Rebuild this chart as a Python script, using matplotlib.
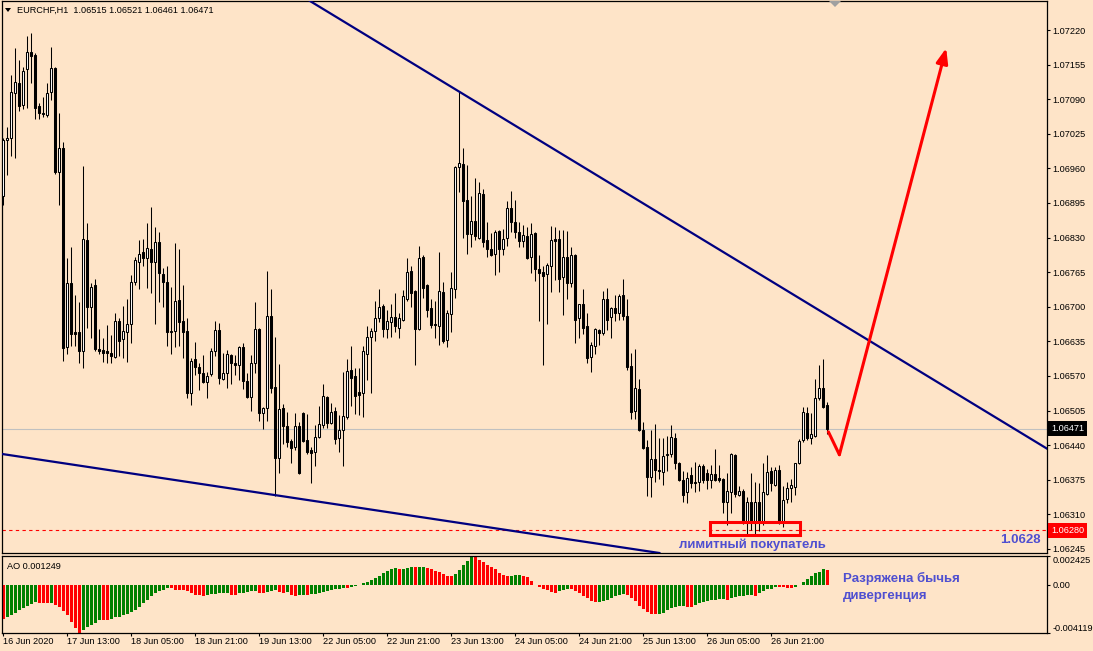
import matplotlib.pyplot as plt
from matplotlib.patches import Rectangle, Polygon
from matplotlib.transforms import blended_transform_factory
import numpy as np

# EURCHF H1 candles (207 bars, 16 Jun 2020 -> 29 Jun 2020)
opens = [
    1.06909, 1.07013, 1.07018, 1.07101, 1.07120, 1.07080, 1.07146, 1.07178, 1.07173, 1.07077,
    1.07064, 1.07060, 1.07103, 1.07148, 1.06953, 1.06998, 1.06624, 1.06744, 1.06652, 1.06652,
    1.06616, 1.06825, 1.06699, 1.06740, 1.06620, 1.06618, 1.06616, 1.06614, 1.06605, 1.06673,
    1.06639, 1.06652, 1.06667, 1.06746, 1.06784, 1.06802, 1.06791, 1.06808, 1.06785, 1.06821,
    1.06761, 1.06746, 1.06652, 1.06654, 1.06712, 1.06674, 1.06654, 1.06537, 1.06601, 1.06586,
    1.06575, 1.06558, 1.06573, 1.06616, 1.06656, 1.06565, 1.06575, 1.06610, 1.06595, 1.06590,
    1.06624, 1.06560, 1.06530, 1.06594, 1.06659, 1.06500, 1.06509, 1.06682, 1.06550, 1.06415,
    1.06509, 1.06475, 1.06447, 1.06436, 1.06475, 1.06500, 1.06449, 1.06430, 1.06428, 1.06456,
    1.06477, 1.06531, 1.06481, 1.06505, 1.06453, 1.06468, 1.06492, 1.06582, 1.06569, 1.06539,
    1.06537, 1.06612, 1.06644, 1.06654, 1.06678, 1.06701, 1.06659, 1.06671, 1.06680, 1.06661,
    1.06676, 1.06714, 1.06767, 1.06729, 1.06659, 1.06793, 1.06740, 1.06697, 1.06667, 1.06663,
    1.06727, 1.06637, 1.06686, 1.06733, 1.06962, 1.06968, 1.06900, 1.06836, 1.06861, 1.06830,
    1.06911, 1.06825, 1.06808, 1.06800, 1.06842, 1.06808, 1.06829, 1.06885, 1.06859, 1.06840,
    1.06823, 1.06832, 1.06793, 1.06838, 1.06770, 1.06765, 1.06761, 1.06776, 1.06827, 1.06827,
    1.06755, 1.06793, 1.06744, 1.06797, 1.06678, 1.06705, 1.06663, 1.06605, 1.06627, 1.06656,
    1.06650, 1.06714, 1.06680, 1.06697, 1.06689, 1.06722, 1.06682, 1.06588, 1.06505, 1.06545,
    1.06468, 1.06436, 1.06381, 1.06413, 1.06394, 1.06389, 1.06421, 1.06424, 1.06454, 1.06406,
    1.06375, 1.06351, 1.06383, 1.06370, 1.06370, 1.06400, 1.06387, 1.06375, 1.06385, 1.06379,
    1.06377, 1.06333, 1.06351, 1.06421, 1.06347, 1.06354, 1.06294, 1.06333, 1.06294, 1.06333,
    1.06296, 1.06349, 1.06391, 1.06366, 1.06394, 1.06294, 1.06339, 1.06360, 1.06362, 1.06406,
    1.06449, 1.06500, 1.06454, 1.06458, 1.06528, 1.06548, 1.06515,
]
highs = [
    1.07018, 1.07037, 1.07135, 1.07186, 1.07163, 1.07150, 1.07208, 1.07214, 1.07176, 1.07082,
    1.07094, 1.07120, 1.07188, 1.07150, 1.07064, 1.07009, 1.06791, 1.06812, 1.06723, 1.06708,
    1.06964, 1.06857, 1.06744, 1.06753, 1.06658, 1.06642, 1.06665, 1.06646, 1.06689, 1.06678,
    1.06701, 1.06714, 1.06759, 1.06793, 1.06825, 1.06827, 1.06857, 1.06887, 1.06849, 1.06840,
    1.06772, 1.06776, 1.06738, 1.06819, 1.06808, 1.06740, 1.06678, 1.06603, 1.06633, 1.06595,
    1.06610, 1.06577, 1.06622, 1.06673, 1.06669, 1.06614, 1.06618, 1.06612, 1.06610, 1.06626,
    1.06631, 1.06575, 1.06609, 1.06708, 1.06661, 1.06511, 1.06767, 1.06733, 1.06644, 1.06592,
    1.06517, 1.06503, 1.06451, 1.06500, 1.06484, 1.06502, 1.06498, 1.06436, 1.06477, 1.06513,
    1.06554, 1.06533, 1.06519, 1.06511, 1.06496, 1.06577, 1.06601, 1.06627, 1.06584, 1.06584,
    1.06627, 1.06663, 1.06661, 1.06710, 1.06733, 1.06705, 1.06693, 1.06706, 1.06725, 1.06688,
    1.06731, 1.06791, 1.06776, 1.06731, 1.06814, 1.06798, 1.06742, 1.06714, 1.06710, 1.06802,
    1.06746, 1.06693, 1.06765, 1.06964, 1.07103, 1.06998, 1.06966, 1.06908, 1.06941, 1.06935,
    1.06921, 1.06859, 1.06838, 1.06844, 1.06844, 1.06847, 1.06898, 1.06917, 1.06900, 1.06859,
    1.06853, 1.06849, 1.06857, 1.06840, 1.06798, 1.06776, 1.06782, 1.06851, 1.06849, 1.06844,
    1.06844, 1.06842, 1.06812, 1.06799, 1.06706, 1.06733, 1.06689, 1.06633, 1.06661, 1.06659,
    1.06729, 1.06735, 1.06699, 1.06722, 1.06724, 1.06753, 1.06714, 1.06614, 1.06620, 1.06564,
    1.06483, 1.06449, 1.06468, 1.06479, 1.06454, 1.06454, 1.06458, 1.06477, 1.06462, 1.06408,
    1.06391, 1.06389, 1.06398, 1.06409, 1.06404, 1.06404, 1.06396, 1.06402, 1.06432, 1.06402,
    1.06379, 1.06387, 1.06425, 1.06424, 1.06364, 1.06358, 1.06342, 1.06387, 1.06370, 1.06368,
    1.06406, 1.06421, 1.06398, 1.06398, 1.06402, 1.06364, 1.06370, 1.06377, 1.06407, 1.06451,
    1.06511, 1.06511, 1.06500, 1.06564, 1.06590, 1.06601, 1.06521,
]
lows = [
    1.06891, 1.06947, 1.06983, 1.06979, 1.07067, 1.07071, 1.07073, 1.07120, 1.07052, 1.07052,
    1.07056, 1.07056, 1.07088, 1.06950, 1.06891, 1.06599, 1.06612, 1.06627, 1.06627, 1.06594,
    1.06584, 1.06661, 1.06641, 1.06616, 1.06612, 1.06597, 1.06595, 1.06594, 1.06603, 1.06607,
    1.06603, 1.06597, 1.06631, 1.06740, 1.06733, 1.06776, 1.06735, 1.06725, 1.06667, 1.06708,
    1.06699, 1.06627, 1.06612, 1.06624, 1.06627, 1.06603, 1.06528, 1.06515, 1.06571, 1.06543,
    1.06556, 1.06528, 1.06569, 1.06607, 1.06554, 1.06562, 1.06548, 1.06554, 1.06571, 1.06562,
    1.06545, 1.06528, 1.06505, 1.06575, 1.06486, 1.06471, 1.06486, 1.06537, 1.06345, 1.06387,
    1.06443, 1.06436, 1.06406, 1.06430, 1.06385, 1.06445, 1.06423, 1.06368, 1.06400, 1.06454,
    1.06473, 1.06473, 1.06479, 1.06443, 1.06428, 1.06400, 1.06490, 1.06513, 1.06498, 1.06496,
    1.06492, 1.06562, 1.06537, 1.06635, 1.06671, 1.06644, 1.06641, 1.06644, 1.06652, 1.06642,
    1.06673, 1.06710, 1.06699, 1.06590, 1.06656, 1.06716, 1.06680, 1.06661, 1.06642, 1.06629,
    1.06631, 1.06624, 1.06652, 1.06716, 1.06915, 1.06830, 1.06799, 1.06812, 1.06825, 1.06827,
    1.06812, 1.06793, 1.06795, 1.06759, 1.06765, 1.06798, 1.06814, 1.06840, 1.06830, 1.06812,
    1.06812, 1.06789, 1.06763, 1.06748, 1.06673, 1.06590, 1.06667, 1.06727, 1.06750, 1.06727,
    1.06684, 1.06714, 1.06737, 1.06631, 1.06641, 1.06648, 1.06594, 1.06577, 1.06612, 1.06629,
    1.06646, 1.06656, 1.06641, 1.06674, 1.06676, 1.06676, 1.06582, 1.06490, 1.06490, 1.06466,
    1.06432, 1.06344, 1.06342, 1.06370, 1.06377, 1.06366, 1.06392, 1.06417, 1.06396, 1.06373,
    1.06333, 1.06331, 1.06360, 1.06351, 1.06353, 1.06368, 1.06358, 1.06360, 1.06373, 1.06370,
    1.06313, 1.06290, 1.06313, 1.06342, 1.06345, 1.06292, 1.06271, 1.06281, 1.06271, 1.06279,
    1.06290, 1.06347, 1.06354, 1.06364, 1.06292, 1.06286, 1.06331, 1.06333, 1.06347, 1.06404,
    1.06445, 1.06449, 1.06443, 1.06456, 1.06524, 1.06509, 1.06461,
]
closes = [
    1.07013, 1.07018, 1.07103, 1.07122, 1.07077, 1.07143, 1.07178, 1.07171, 1.07073, 1.07064,
    1.07062, 1.07101, 1.07148, 1.06953, 1.06998, 1.06622, 1.06744, 1.06648, 1.06648, 1.06616,
    1.06827, 1.06699, 1.06738, 1.06620, 1.06616, 1.06614, 1.06614, 1.06607, 1.06674, 1.06635,
    1.06654, 1.06667, 1.06746, 1.06787, 1.06800, 1.06791, 1.06810, 1.06785, 1.06821, 1.06763,
    1.06746, 1.06652, 1.06654, 1.06710, 1.06671, 1.06652, 1.06537, 1.06599, 1.06586, 1.06575,
    1.06558, 1.06569, 1.06616, 1.06656, 1.06567, 1.06575, 1.06612, 1.06594, 1.06590, 1.06624,
    1.06560, 1.06530, 1.06594, 1.06659, 1.06500, 1.06509, 1.06682, 1.06547, 1.06415, 1.06507,
    1.06475, 1.06445, 1.06434, 1.06475, 1.06387, 1.06447, 1.06428, 1.06426, 1.06456, 1.06479,
    1.06533, 1.06481, 1.06503, 1.06451, 1.06468, 1.06494, 1.06580, 1.06567, 1.06533, 1.06535,
    1.06616, 1.06644, 1.06654, 1.06678, 1.06699, 1.06659, 1.06673, 1.06680, 1.06663, 1.06678,
    1.06720, 1.06765, 1.06725, 1.06658, 1.06791, 1.06736, 1.06693, 1.06665, 1.06665, 1.06729,
    1.06635, 1.06688, 1.06735, 1.06962, 1.06970, 1.06898, 1.06836, 1.06861, 1.06832, 1.06913,
    1.06821, 1.06808, 1.06798, 1.06840, 1.06808, 1.06827, 1.06885, 1.06859, 1.06840, 1.06823,
    1.06834, 1.06791, 1.06836, 1.06770, 1.06763, 1.06757, 1.06778, 1.06825, 1.06823, 1.06752,
    1.06793, 1.06744, 1.06797, 1.06676, 1.06705, 1.06661, 1.06603, 1.06629, 1.06658, 1.06650,
    1.06714, 1.06676, 1.06697, 1.06688, 1.06720, 1.06682, 1.06586, 1.06503, 1.06547, 1.06468,
    1.06434, 1.06381, 1.06413, 1.06394, 1.06391, 1.06419, 1.06424, 1.06456, 1.06406, 1.06375,
    1.06347, 1.06379, 1.06368, 1.06368, 1.06400, 1.06375, 1.06375, 1.06385, 1.06375, 1.06375,
    1.06333, 1.06354, 1.06423, 1.06349, 1.06354, 1.06294, 1.06333, 1.06294, 1.06333, 1.06294,
    1.06351, 1.06389, 1.06368, 1.06394, 1.06294, 1.06337, 1.06360, 1.06366, 1.06406, 1.06447,
    1.06502, 1.06453, 1.06460, 1.06528, 1.06548, 1.06511, 1.06471,
]

# Awesome Oscillator histogram
ao = [
    -0.00292, -0.00280, -0.00263, -0.00243, -0.00220, -0.00199, -0.00179, -0.00162, -0.00150, -0.00153,
    -0.00156, -0.00158, -0.00155, -0.00171, -0.00194, -0.00223, -0.00257, -0.00315, -0.00367, -0.004119,
    -0.00390, -0.00365, -0.00345, -0.00325, -0.00300, -0.00302, -0.00305, -0.00290, -0.00280, -0.00272,
    -0.00262, -0.00250, -0.00235, -0.00215, -0.00190, -0.00160, -0.00135, -0.00100, -0.00075, -0.00055,
    -0.00045, -0.00030, -0.00032, -0.00045, -0.00048, -0.00050, -0.00055, -0.00070, -0.00085, -0.00092,
    -0.00095, -0.00088, -0.00082, -0.00078, -0.00075, -0.00072, -0.00070, -0.00085, -0.00088, -0.00072,
    -0.00068, -0.00060, -0.00058, -0.00055, -0.00070, -0.00072, -0.00060, -0.00055, -0.00050, -0.00065,
    -0.00068, -0.00062, -0.00088, -0.00100, -0.00090, -0.00085, -0.00085, -0.00082, -0.00078, -0.00072,
    -0.00065, -0.00058, -0.00050, -0.00042, -0.00035, -0.00028, -0.00030, -0.00020, -0.00015, -0.00005,
    0.00012, 0.00025, 0.00040, 0.00055, 0.00075, 0.00100, 0.00118, 0.00128, 0.00137, 0.00128,
    0.00135, 0.00142, 0.00153, 0.00147, 0.00150, 0.00152, 0.00140, 0.00130, 0.00118, 0.00105,
    0.00090, 0.00075, 0.00070, 0.00090, 0.00124, 0.00162, 0.00199, 0.002425, 0.00232, 0.00210,
    0.00190, 0.00170, 0.00150, 0.00130, 0.00100, 0.00080, 0.00072, 0.00075, 0.00080, 0.00082,
    0.00075, 0.00060, 0.00030, -0.00005, -0.00025, -0.00040, -0.00050, -0.00060, -0.00068, -0.00055,
    -0.00045, -0.00035, -0.00040, -0.00055, -0.00075, -0.00095, -0.00115, -0.00140, -0.00150, -0.00148,
    -0.00140, -0.00128, -0.00115, -0.00100, -0.00085, -0.00080, -0.00090, -0.00115, -0.00140, -0.00180,
    -0.00210, -0.00235, -0.00250, -0.00252, -0.00250, -0.00240, -0.00220, -0.00200, -0.00190, -0.00185,
    -0.00182, -0.00190, -0.00192, -0.00170, -0.00158, -0.00150, -0.00140, -0.00135, -0.00130, -0.00127,
    -0.00125, -0.00135, -0.00115, -0.00108, -0.00100, -0.00098, -0.00093, -0.00090, -0.00098, -0.00070,
    -0.00055, -0.00042, -0.00035, -0.00020, -0.00022, -0.00025, -0.00028, -0.00030, -0.00020, -0.00005,
    0.00018, 0.00045, 0.00075, 0.00095, 0.00110, 0.00128, 0.001249,
]

time_labels = ['16 Jun 2020', '17 Jun 13:00', '18 Jun 05:00', '18 Jun 21:00', '19 Jun 13:00',
               '22 Jun 05:00', '22 Jun 21:00', '23 Jun 13:00', '24 Jun 05:00', '24 Jun 21:00',
               '25 Jun 13:00', '26 Jun 05:00', '26 Jun 21:00']
time_label_bars = [0, 16, 32, 48, 64, 80, 96, 112, 128, 144, 160, 176, 192]
price_ticks = [1.07220, 1.07155, 1.07090, 1.07025, 1.06960, 1.06895, 1.06830, 1.06765,
               1.06700, 1.06635, 1.06570, 1.06505, 1.06440, 1.06375, 1.06310, 1.06245]
bid = 1.06471
limit_level = 1.06280

# drawn objects (bar index, price)
upper_trend = [(114, 1.07104), (206, 1.06684)]
lower_trend = [(0, 1.06423), (68, 1.06346)]
arrow_path = [(206.25, 1.06465), (209.0, 1.06422), (235.7, 1.07186)]
buyer_box = (176.7, 1.06271, 22.5, 0.00025)

W, H = 1093, 651
BG = '#FEE4C8'
BLUE = '#4F4FD0'
plt.rcParams['font.family'] = ['Liberation Sans', 'DejaVu Sans']


def box(left, top, right, bottom):
    return [left / W, 1 - bottom / H, (right - left) / W, (bottom - top) / H]


fig = plt.figure(figsize=(W / 100, H / 100), dpi=100, facecolor=BG)
ax = fig.add_axes(box(2, 1, 1047, 553), facecolor=BG)
ao_ax = fig.add_axes(box(2, 556, 1047, 633), facecolor=BG, sharex=ax)

x = np.arange(len(closes))
o, h, l, c = map(np.array, (opens, highs, lows, closes))
bull = c >= o
body = np.maximum(np.abs(c - o), 0.000015)
bottom = np.minimum(o, c)

ax.vlines(x, l, h, color='black', lw=0.75, zorder=3)
ax.bar(x[bull], body[bull], bottom=bottom[bull], width=0.5, facecolor='white',
       edgecolor='black', lw=0.75, zorder=4)
ax.bar(x[~bull], body[~bull], bottom=bottom[~bull], width=0.5, facecolor='black',
       edgecolor='black', lw=0.75, zorder=4)

ax.axhline(bid, color='#C0C0C0', lw=0.8, zorder=1)
ax.axhline(limit_level, color='red', lw=0.8, ls=(0, (3, 3)), zorder=2)
ax.axline(*upper_trend, color='#000080', lw=1.6, zorder=5)
ax.axline(*lower_trend, color='#000080', lw=1.6, zorder=5)

ax.plot([p[0] for p in arrow_path[:2]], [p[1] for p in arrow_path[:2]],
        color='red', lw=2.2, zorder=6, solid_capstyle='round')
ax.annotate('', xy=arrow_path[2], xytext=arrow_path[1],
            arrowprops=dict(arrowstyle='-|>,head_length=0.9,head_width=0.35', color='red',
                            lw=2.2, shrinkA=0, shrinkB=0), zorder=6)
ax.add_patch(Rectangle(buyer_box[:2], buyer_box[2], buyer_box[3], fill=False,
                       ec='red', lw=2.2, zorder=6))

ax.text(187.2, 1.06252, 'лимитный покупатель', color=BLUE, fontsize=9.5,
        fontweight='bold', ha='center', va='center', zorder=7)
ax.text(259.4, 1.06262, '1.0628', color=BLUE, fontsize=9.5, fontweight='bold',
        ha='right', va='center', zorder=7)

ax.set_xlim(-0.33, 260.9)
ax.set_ylim(1.062373, 1.072745)
ax.yaxis.tick_right()
ax.set_yticks(price_ticks)
ax.set_yticklabels([f'{p:.5f}' for p in price_ticks])
ax.tick_params(axis='y', length=2.2, width=0.8, labelsize=6.6, pad=1.5)
ax.tick_params(axis='x', length=0, labelbottom=False)

trans = blended_transform_factory(ax.transAxes, ax.transData)
for level, colour in ((bid, 'black'), (limit_level, '#FF0000')):
    ax.text(1.0038, level, f'{level:.5f}', transform=trans, fontsize=6.6, color='white',
            va='center', ha='left', clip_on=False, zorder=10,
            bbox=dict(boxstyle='square,pad=0.3', fc=colour, ec='none'))

# AO panel
ao_arr = np.array(ao)
rising = np.r_[False, ao_arr[1:] > ao_arr[:-1]]
ao_ax.bar(x, ao_arr, width=0.75, color=np.where(rising, '#008000', '#FF0000'), lw=0)
ao_ax.set_ylim(-0.004119, 0.002425)
ao_ax.yaxis.tick_right()
ao_ax.set_yticks([0.002425, 0.0, -0.004119])
ao_ax.set_yticklabels(['0.002425', '0.00', '-0.004119'])
ao_ax.tick_params(axis='y', length=2.2, width=0.8, labelsize=6.6, pad=1.5)
lbls = ao_ax.get_yticklabels()
lbls[0].set_va('top')
lbls[2].set_va('bottom')
ao_ax.set_xticks(time_label_bars)
ao_ax.set_xticklabels(time_labels, ha='left')
ao_ax.tick_params(axis='x', length=2.2, width=0.8, labelsize=6.6, pad=1)

ao_ax.text(209.9, 0.00052, 'Разряжена бычья', color=BLUE, fontsize=9.5,
           fontweight='bold', ha='left', va='center')
ao_ax.text(209.9, -0.00095, 'дивергенция', color=BLUE, fontsize=9.5,
           fontweight='bold', ha='left', va='center')
ao_ax.text(0.005, 0.92, 'AO 0.001249', transform=ao_ax.transAxes, fontsize=6.6, va='top')

for a in (ax, ao_ax):
    for s in a.spines.values():
        s.set_linewidth(0.9)

fig.text(17 / W, 1 - 10 / H, 'EURCHF,H1  1.06515 1.06521 1.06461 1.06471',
         fontsize=6.6, va='center')
fig.patches.append(Polygon([(5 / W, 1 - 8 / H), (11 / W, 1 - 8 / H), (8 / W, 1 - 12 / H)],
                           closed=True, fc='black', transform=fig.transFigure))
fig.patches.append(Polygon([(829 / W, 1 - 1 / H), (841 / W, 1 - 1 / H), (835 / W, 1 - 7 / H)],
                           closed=True, fc='#A0A0A0', ec='none', transform=fig.transFigure))

fig.savefig('out.png', dpi=100, facecolor=BG)
